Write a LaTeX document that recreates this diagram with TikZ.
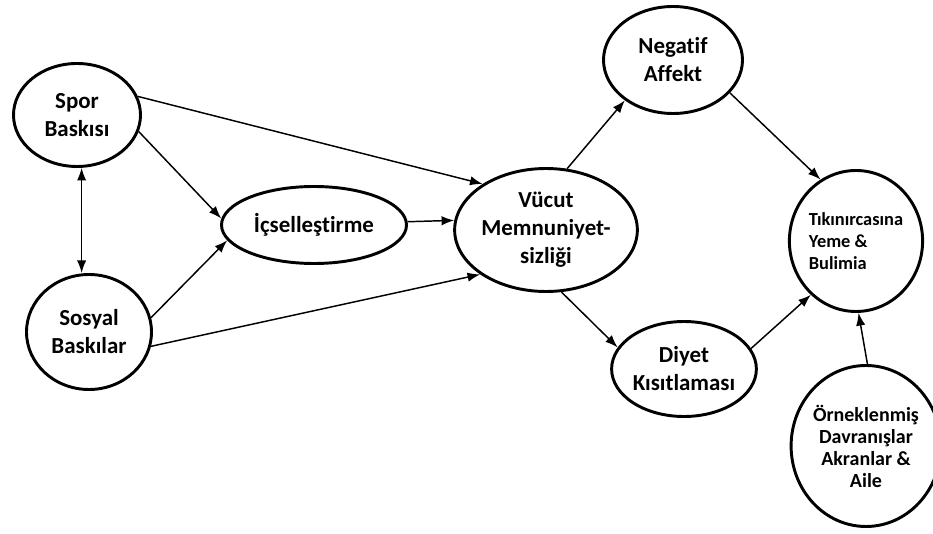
\documentclass[tikz,border=0pt]{standalone}
\usepackage{fontspec}
\setmainfont{Carlito}[Ligatures=CommonOff]
\usetikzlibrary{shapes.geometric,arrows.meta}
\tikzset{
  ell/.style={draw, ellipse, line width=2.2pt, inner sep=0pt, align=center,
    font=\fontsize{17.2}{21}\selectfont\bfseries},
  smallell/.style={ell, font=\fontsize{13.8}{16.5}\selectfont\bfseries},
  arr/.style={line width=1.1pt, -{Latex[length=9.5pt,width=7pt]}},
  darr/.style={line width=1.1pt, {Latex[length=9.5pt,width=7pt]}-{Latex[length=9.5pt,width=7pt]}}
}
\begin{document}
\begin{tikzpicture}[x=0.75pt,y=-0.75pt]
\useasboundingbox (0,0) rectangle (933,534);
\node[ell, minimum width=95.25pt, minimum height=77.25pt] (spor) at (77,115) {Spor\\Baskısı};
\node[ell, minimum width=93.75pt, minimum height=86.25pt] (sosyal) at (89,332) {Sosyal\\Baskılar};
\node[ell, minimum width=138.75pt, minimum height=57.75pt] (icsel) at (314,225) {İçselleştirme};
\node[ell, minimum width=119.25pt, minimum height=92.25pt] (vucut) at (546,230) {Vücut\\Memnuniyet-\\sizliği};
\node[ell, minimum width=104.25pt, minimum height=80.25pt] (negatif) at (673,60) {Negatif\\Affekt};
\node[smallell, align=left, minimum width=98.25pt, minimum height=105.75pt] (tik) at (856,241) {Tıkınırcasına\\Yeme \&\\Bulimia};
\node[ell, minimum width=103.5pt, minimum height=71.25pt] (diyet) at (684,369) {Diyet\\Kısıtlaması};
\node[smallell, font=\fontsize{15}{16.5}\selectfont\bfseries, minimum width=98.25pt, minimum height=120.75pt] (ornek) at (866,446) {Örneklenmiş\\Davranışlar\\Akranlar \&\\Aile};

\draw[arr] (spor.17) -- (vucut.144);
\draw[arr] (spor.-15) -- (icsel.176);
\draw[darr] (spor.-85) -- (spor.-85 |- sosyal.north);
\draw[arr] (sosyal.13) -- (icsel.190);
\draw[arr] (sosyal.-13) -- (vucut.214);
\draw[arr] (icsel.2) -- (vucut.174);
\draw[arr] (vucut.71) -- (negatif.220);
\draw[arr] (vucut.-76) -- (diyet.162);
\draw[arr] (negatif.-30) -- (tik.120);
\draw[arr] (diyet.17) -- (tik.230);
\draw[arr] (ornek.89) -- (tik.-88);
\end{tikzpicture}
\end{document}
